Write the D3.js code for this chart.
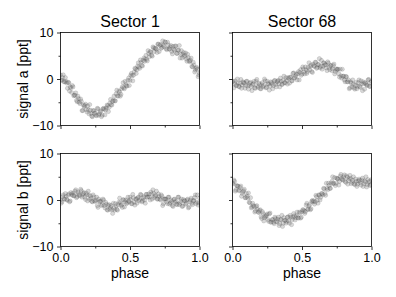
<!DOCTYPE html>
<html>
<head>
<meta charset="utf-8">
<script src="https://cdn.jsdelivr.net/npm/d3@7"></script>
<style>
body { margin: 0; background: #fff; }
svg { display: block; font-family: "Liberation Sans", Arial, sans-serif; }
</style>
</head>
<body>
<svg></svg>
<script>
var sectors = ["Sector 1", "Sector 68"];
var signals = ["signal a [ppt]", "signal b [ppt]"];
var xTicks = [0, 0.5, 1];
var xMinor = [0.25, 0.75];
var yTicks = [-10, 0, 10];
var yMinor = [-5, 5];

// phase of the points, two interleaved sets
var phaseA = [0.00,0.01,0.02,0.03,0.04,0.05,0.06,0.07,0.08,0.09,
  0.10,0.11,0.12,0.13,0.14,0.15,0.16,0.17,0.18,0.19,
  0.20,0.21,0.22,0.23,0.24,0.25,0.26,0.27,0.28,0.29,
  0.30,0.31,0.32,0.33,0.34,0.35,0.36,0.37,0.38,0.39,
  0.40,0.41,0.42,0.43,0.44,0.45,0.46,0.47,0.48,0.49,
  0.50,0.51,0.52,0.53,0.54,0.55,0.56,0.57,0.58,0.59,
  0.60,0.61,0.62,0.63,0.64,0.65,0.66,0.67,0.68,0.69,
  0.70,0.71,0.72,0.73,0.74,0.75,0.76,0.77,0.78,0.79,
  0.80,0.81,0.82,0.83,0.84,0.85,0.86,0.87,0.88,0.89,
  0.90,0.91,0.92,0.93,0.94,0.95,0.96,0.97,0.98,0.99,
  1.00];
var phaseB = [0.005,0.015,0.025,0.035,0.045,0.055,0.065,0.075,0.085,0.095,
  0.105,0.115,0.125,0.135,0.145,0.155,0.165,0.175,0.185,0.195,
  0.205,0.215,0.225,0.235,0.245,0.255,0.265,0.275,0.285,0.295,
  0.305,0.315,0.325,0.335,0.345,0.355,0.365,0.375,0.385,0.395,
  0.405,0.415,0.425,0.435,0.445,0.455,0.465,0.475,0.485,0.495,
  0.505,0.515,0.525,0.535,0.545,0.555,0.565,0.575,0.585,0.595,
  0.605,0.615,0.625,0.635,0.645,0.655,0.665,0.675,0.685,0.695,
  0.705,0.715,0.725,0.735,0.745,0.755,0.765,0.775,0.785,0.795,
  0.805,0.815,0.825,0.835,0.845,0.855,0.865,0.875,0.885,0.895,
  0.905,0.915,0.925,0.935,0.945,0.955,0.965,0.975,0.985,0.995];

// signal a, sector 1
var a1A = [0.9,-0.3,0.9,-0.6,-0.5,-2.0,-0.8,-1.7,-2.9,-1.7,
  -3.5,-3.0,-4.9,-4.2,-5.3,-4.8,-6.8,-5.9,-5.4,-7.1,
  -6.6,-5.5,-7.4,-8.1,-6.8,-7.3,-7.9,-6.4,-7.5,-6.9,
  -7.8,-6.3,-7.7,-6.2,-5.7,-6.1,-4.4,-5.6,-4.6,-4.7,
  -3.2,-3.6,-2.6,-3.7,-2.1,-0.8,-2.1,-1.2,-1.5,0.2,
  -0.3,1.2,-0.4,1.5,2.2,2.0,3.5,2.3,3.6,2.8,
  4.5,4.3,4.2,6.1,4.8,5.8,4.9,6.7,6.6,6.4,
  7.5,5.9,7.4,6.8,7.3,8.0,6.5,7.9,6.5,6.9,
  5.9,7.0,6.2,7.1,5.5,6.2,4.5,6.1,5.3,4.8,
  5.6,3.8,4.6,3.7,4.5,2.6,3.0,1.9,2.5,0.5,
  1.3];
var a1B = [-0.2,0.3,-0.6,0.3,-0.9,-0.7,-2.6,-1.9,-1.4,-3.6,
  -3.5,-4.6,-3.7,-5.0,-4.3,-6.8,-5.6,-5.7,-6.6,-5.8,
  -7.5,-6.7,-8.0,-6.8,-7.4,-7.8,-6.3,-7.8,-7.1,-8.1,
  -6.4,-6.5,-6.7,-5.6,-7.0,-5.2,-5.5,-4.8,-3.7,-4.7,
  -2.4,-3.7,-2.8,-3.3,-1.7,-1.9,-0.5,-1.5,-0.3,-1.4,
  0.8,0.7,0.8,2.3,1.2,2.8,2.6,4.1,2.9,4.0,
  3.8,5.1,3.9,5.5,5.9,5.1,6.9,5.9,6.6,5.7,
  7.5,7.2,6.6,8.2,7.0,7.9,6.3,7.3,6.4,7.2,
  5.4,6.4,7.1,5.5,6.2,7.2,5.3,4.5,5.7,5.1,
  4.3,5.3,3.9,4.0,2.7,3.6,1.5,2.3,2.1,0.9];

// signal a, sector 68
var a68A = [-0.6,-1.9,-0.4,-1.4,-0.9,-1.7,-0.1,-1.3,-0.8,-2.0,
  -0.5,-1.5,-1.3,-0.7,-2.5,-1.0,-1.9,-0.5,-1.5,-0.9,
  -2.1,-1.2,-1.7,0.0,-1.9,-0.5,-1.1,-1.5,-0.8,-2.1,
  -0.4,-1.2,-0.6,-0.3,-1.7,-0.5,-1.1,0.6,-0.8,-0.3,
  0.3,-0.9,0.4,-0.4,1.3,0.3,1.1,1.1,-0.2,2.0,
  1.1,2.2,1.1,2.0,1.6,3.5,2.7,1.6,3.2,2.7,
  3.6,2.5,3.1,2.4,4.0,2.7,3.4,3.1,1.8,3.4,
  2.0,2.9,2.2,3.2,1.6,2.0,2.1,0.4,0.7,2.1,
  0.6,-0.6,0.5,-0.6,-2.1,-0.6,-1.7,-1.1,-2.2,-0.7,
  -1.6,-0.2,-1.8,-1.0,-0.6,-2.2,-1.0,-1.4,-0.1,-1.6,
  -0.5];
var a68B = [-0.5,-1.0,-1.4,0.0,-1.6,-0.9,-2.0,-0.6,-0.9,-1.4,
  -0.5,-2.2,-0.9,-1.6,-1.2,-0.5,-2.0,-0.1,-1.8,-1.2,
  -2.1,-0.8,-1.4,-0.4,-1.8,-1.0,-2.4,-0.6,-1.1,-1.4,
  -0.3,-1.7,-0.5,-1.0,0.2,-1.2,-0.3,-0.8,0.3,-1.1,
  0.1,0.4,-0.4,1.2,0.2,0.7,-0.2,1.6,1.4,0.8,
  2.6,1.5,2.6,1.2,2.5,2.0,3.0,1.4,2.8,3.6,
  2.3,3.1,4.4,2.7,2.1,3.5,3.0,2.4,3.7,2.5,
  2.9,1.8,2.9,1.1,2.2,2.1,1.1,2.1,0.2,0.6,
  -0.2,0.5,-0.6,-0.2,-1.9,-0.9,-0.2,-1.9,-1.4,-2.1,
  -0.8,-1.6,-0.4,-2.5,-1.0,-0.8,-1.3,-0.2,-1.6,-0.7];

// signal b, sector 1
var b1A = [0.1,-0.4,1.1,0.2,0.8,-0.1,1.3,-0.2,1.2,1.5,
  0.9,2.2,0.7,1.4,0.9,2.0,1.1,1.6,0.1,1.1,
  1.9,0.1,0.4,-0.4,0.7,-0.3,0.6,-1.6,-0.3,-0.2,
  -1.0,0.0,-1.7,-0.9,-2.2,-1.0,-1.6,-2.1,-0.7,-2.2,
  -1.3,-2.2,-0.5,-0.6,-1.0,0.1,-1.5,0.0,-0.6,-0.2,
  0.6,-0.8,1.2,-0.5,0.2,-0.7,0.6,0.1,1.1,-0.2,
  0.7,-0.7,1.2,0.7,0.6,1.7,0.2,1.4,0.8,1.9,
  0.2,0.8,0.0,0.8,-0.8,0.2,0.2,-0.8,0.6,-0.6,
  -0.3,-1.4,0.2,-0.3,-1.0,0.6,-0.7,0.2,-1.3,-0.2,
  -0.9,0.0,-1.7,-0.4,0.4,-1.0,-0.1,1.1,-0.5,-1.1,
  0.4];
var b1B = [-0.7,0.7,0.2,1.4,0.1,1.0,-0.4,1.6,1.0,0.9,
  1.9,0.5,1.7,1.1,2.3,0.6,1.4,0.6,1.5,-0.2,
  1.0,0.9,-0.3,1.1,-0.2,0.0,-1.2,0.2,-0.4,-1.2,
  0.2,-1.2,-0.5,-2.1,-1.2,-2.0,-1.2,-2.9,-1.8,-0.8,
  -2.0,-1.0,0.4,-1.2,-1.6,0.0,-0.4,-0.8,0.6,-0.4,
  0.1,-0.8,0.5,-1.1,0.2,0.4,-0.2,1.2,-0.4,0.4,
  0.0,1.2,0.6,1.3,0.0,1.3,2.2,0.5,1.0,0.2,
  1.3,0.2,1.1,-1.2,0.2,0.2,-0.4,0.6,-0.9,0.0,
  -1.2,0.1,-0.5,-0.9,0.6,-1.0,-0.3,-1.4,0.1,-0.2,
  -0.7,0.2,-1.5,0.0,-0.7,-0.2,0.5,-0.8,1.1,-0.6];

// signal b, sector 68
var b68A = [3.6,4.3,1.9,3.1,3.0,2.1,3.0,1.4,2.0,0.5,
  1.4,0.4,-0.5,0.5,-1.5,-1.2,-2.6,-1.4,-2.0,-2.7,
  -2.1,-4.0,-2.9,-3.8,-3.6,-3.0,-4.6,-2.8,-4.7,-4.2,
  -5.1,-4.0,-4.7,-3.7,-5.1,-4.2,-5.7,-3.8,-4.4,-4.6,
  -3.6,-5.0,-3.7,-4.2,-2.9,-4.3,-3.4,-3.8,-2.6,-3.9,
  -2.5,-2.1,-2.9,-1.1,-2.0,-1.3,-2.1,-0.3,-0.4,-0.9,
  1.0,-0.1,1.1,0.0,1.4,1.1,2.4,1.0,2.5,3.6,
  2.5,3.6,5.0,3.5,3.1,4.7,4.5,4.0,5.5,4.4,
  5.0,4.0,5.2,3.4,4.6,4.6,3.8,5.0,3.3,4.0,
  3.4,4.5,3.7,4.3,2.9,4.1,5.0,3.3,3.8,3.1,
  4.4];
var b68B = [3.5,4.0,2.2,3.0,2.0,2.7,0.8,1.8,2.3,0.5,
  0.8,1.5,-0.6,-1.7,-0.7,-1.4,-2.3,-1.2,-2.6,-2.3,
  -3.6,-2.5,-4.5,-3.4,-3.3,-4.2,-3.0,-4.8,-4.2,-4.8,
  -3.7,-4.6,-4.1,-5.5,-4.2,-3.3,-5.0,-4.4,-5.0,-3.7,
  -4.5,-3.3,-5.3,-3.7,-3.4,-3.8,-2.6,-3.9,-2.8,-3.7,
  -2.1,-2.4,-2.5,-0.7,-2.0,-1.0,-1.9,-0.1,-0.2,-0.4,
  0.7,-0.7,1.0,0.6,1.4,2.5,1.4,3.6,2.2,3.1,
  2.5,4.0,3.6,4.8,3.6,4.6,3.2,5.1,4.6,4.3,
  5.4,3.8,4.9,4.2,5.3,3.5,4.2,3.5,4.5,2.9,
  4.1,4.2,3.2,4.7,3.5,3.9,2.8,4.4,4.0,3.3];

var viewWidth = 396;
var viewHeight = 297;

var margin = {top: 32.5, left: 60.5};
var panelW = 139, panelH = 93;
var gapX = 33, gapY = 28;

var svg = d3.select("svg")
    .attr("width", viewWidth)
    .attr("height", viewHeight);

var x = d3.scaleLinear().domain([0, 1]).range([0, panelW]);
var y = d3.scaleLinear().domain([-10, 10]).range([panelH, 0]);

var panels = [
  {row: 0, col: 0, ya: a1A, yb: a1B},
  {row: 0, col: 1, ya: a68A, yb: a68B},
  {row: 1, col: 0, ya: b1A, yb: b1B},
  {row: 1, col: 1, ya: b68A, yb: b68B}
];

function styleAxis(g) {
    g.select(".domain").remove();
    g.selectAll(".tick line").attr("stroke", "#000").attr("stroke-width", 0.8);
    g.selectAll(".tick text")
        .attr("fill", "#000")
        .attr("font-size", 12.5)
        .attr("font-family", "Liberation Sans, Arial, sans-serif");
}

function drawPanel(p, i) {
    var ox = margin.left + p.col * (panelW + gapX);
    var oy = margin.top + p.row * (panelH + gapY);
    var g = svg.append("g").attr("transform", "translate(" + ox + "," + oy + ")");

    g.append("defs").append("clipPath")
        .attr("id", "clip" + i)
        .append("rect")
        .attr("width", panelW)
        .attr("height", panelH);

    var points = phaseA.map(function(ph, j) { return [ph, p.ya[j]]; })
        .concat(phaseB.map(function(ph, j) { return [ph, p.yb[j]]; }));

    g.append("g")
        .attr("clip-path", "url(#clip" + i + ")")
        .selectAll("circle")
        .data(points)
        .enter()
        .append("circle")
          .attr("cx", function(d) { return x(d[0]); })
          .attr("cy", function(d) { return y(d[1]); })
          .attr("r", 2.1)
          .attr("fill", "#808080")
          .attr("fill-opacity", 0.3)
          .attr("stroke", "#000")
          .attr("stroke-opacity", 0.22)
          .attr("stroke-width", 0.5);

    // major ticks
    var xAxis = d3.axisBottom(x).tickValues(xTicks).tickSize(3.5).tickPadding(3.5)
        .tickFormat(p.row == 1 ? d3.format(".1f") : "");
    g.append("g").attr("transform", "translate(0," + panelH + ")").call(xAxis).call(styleAxis);

    var yAxis = d3.axisLeft(y).tickValues(yTicks).tickSize(3.5).tickPadding(3.5)
        .tickFormat(p.col == 0 ? d3.format("d") : "");
    g.append("g").call(yAxis).call(styleAxis);

    // minor ticks
    g.append("g").attr("transform", "translate(0," + panelH + ")")
        .call(d3.axisBottom(x).tickValues(xMinor).tickSize(2).tickFormat(""))
        .call(styleAxis);
    g.append("g")
        .call(d3.axisLeft(y).tickValues(yMinor).tickSize(2).tickFormat(""))
        .call(styleAxis);

    g.append("rect")
        .attr("width", panelW)
        .attr("height", panelH)
        .attr("fill", "none")
        .attr("stroke", "#000")
        .attr("stroke-width", 0.8);

    if (p.row == 0) {
        g.append("text")
            .attr("x", panelW / 2)
            .attr("y", -5.5)
            .attr("text-anchor", "middle")
            .attr("font-size", 16)
            .text(sectors[p.col]);
    }
    if (p.col == 0) {
        g.append("text")
            .attr("transform", "translate(" + (-33) + "," + (panelH / 2) + ") rotate(-90)")
            .attr("text-anchor", "middle")
            .attr("font-size", 14)
            .text(signals[p.row]);
    }
    if (p.row == 1) {
        g.append("text")
            .attr("x", panelW / 2)
            .attr("y", panelH + 31)
            .attr("text-anchor", "middle")
            .attr("font-size", 14)
            .text("phase");
    }
}

panels.forEach(drawPanel);
</script>
</body>
</html>
